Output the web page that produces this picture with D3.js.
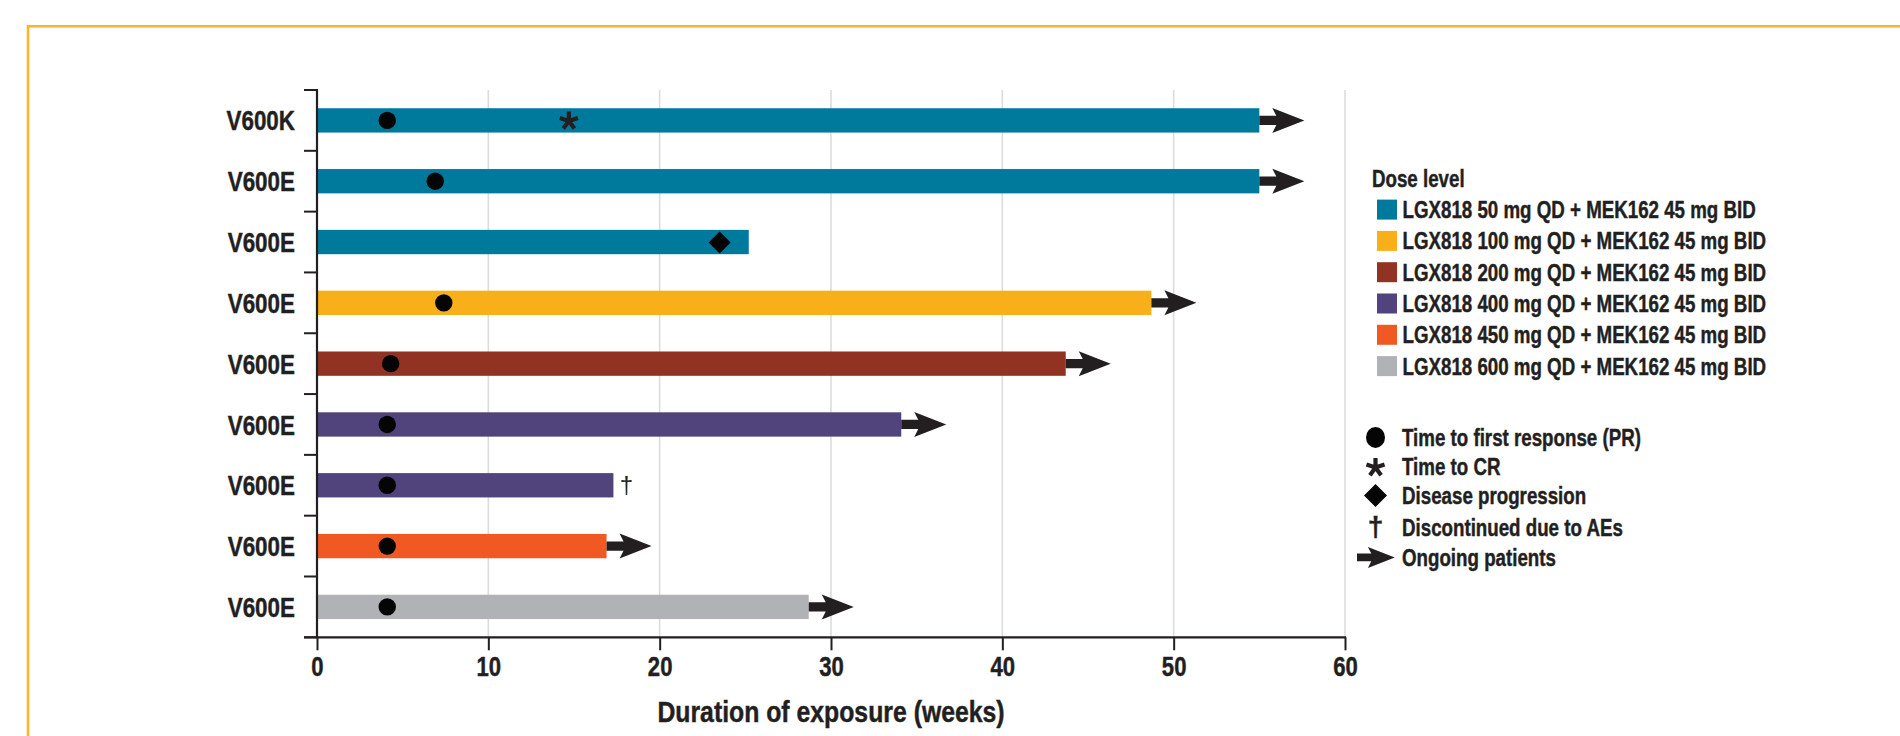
<!DOCTYPE html>
<html>
<head>
<meta charset="utf-8">
<script src="https://cdn.jsdelivr.net/npm/d3@7"></script>
<style>
  html, body { margin: 0; padding: 0; background: #ffffff; }
  svg { display: block; }
  text { font-family: "Liberation Sans", Arial, sans-serif; font-weight: bold; fill: #231f20; stroke: #231f20; stroke-width: 0.45px; }
  text.thin { font-weight: normal; stroke: none; }
</style>
</head>
<body>
<svg id="chart" width="1900" height="736"></svg>
<script>
// Mutation type of each patient, top to bottom
const mutations = ["V600K", "V600E", "V600E", "V600E", "V600E", "V600E", "V600E", "V600E", "V600E"];

// Dose levels and their colours
const doseLevels = [
  "LGX818 50 mg QD + MEK162 45 mg BID",
  "LGX818 100 mg QD + MEK162 45 mg BID",
  "LGX818 200 mg QD + MEK162 45 mg BID",
  "LGX818 400 mg QD + MEK162 45 mg BID",
  "LGX818 450 mg QD + MEK162 45 mg BID",
  "LGX818 600 mg QD + MEK162 45 mg BID"
];
const doseColors = ["#007a9c", "#f8af1a", "#913223", "#51437b", "#f05a22", "#b1b2b5"];

// Per-patient values (weeks)
const patientDose      = [0, 0, 0, 1, 2, 3, 3, 4, 5];
const exposureWeeks    = [55.0, 55.0, 25.2, 48.7, 43.7, 34.1, 17.3, 16.9, 28.7];
const firstResponse    = [4.1, 6.9, null, 7.4, 4.3, 4.1, 4.1, 4.1, 4.1];
const timeToCR         = [14.7, null, null, null, null, null, null, null, null];
const progression      = [null, null, 23.5, null, null, null, null, null, null];
const ongoing          = [true, true, false, true, true, true, false, true, true];
const discontinuedAE   = [false, false, false, false, false, false, true, false, false];

const xTicks = [0, 10, 20, 30, 40, 50, 60];

const markerLegend = [
  { key: "dot",      label: "Time to first response (PR)" },
  { key: "asterisk", label: "Time to CR" },
  { key: "diamond",  label: "Disease progression" },
  { key: "dagger",   label: "Discontinued due to AEs" },
  { key: "arrow",    label: "Ongoing patients" }
];

const ink = "#231f20";
const svg = d3.select("#chart");

// Narrow the glyphs horizontally to get a condensed bold face
function condense(sel, k) {
  sel.each(function () {
    const w = this.getComputedTextLength();
    d3.select(this).attr("textLength", (w * k).toFixed(1)).attr("lengthAdjust", "spacingAndGlyphs");
  });
}

// Outer frame (top and left rules)
svg.append("path")
  .attr("d", "M28,736 L28,26.3 L1900,26.3")
  .attr("fill", "none")
  .attr("stroke", "#fdb42a")
  .attr("stroke-width", 2.6);

const x = d3.scaleLinear().domain([0, 60]).range([317, 1345]);
const y = d3.scaleBand()
  .domain(d3.range(mutations.length))
  .range([90, 637.3])
  .paddingInner(0.6)
  .paddingOuter(0.3);

const yTop = y.range()[0], yBottom = y.range()[1];

// Vertical grid lines
svg.append("g")
  .selectAll("line")
  .data(xTicks.filter(d => d > 0))
  .join("line")
  .attr("x1", d => x(d)).attr("x2", d => x(d))
  .attr("y1", yTop).attr("y2", yBottom)
  .attr("stroke", "#dcdcdc")
  .attr("stroke-width", 1.6);

// Bars
svg.append("g")
  .selectAll("rect")
  .data(exposureWeeks)
  .join("rect")
  .attr("x", x(0))
  .attr("y", (d, i) => y(i))
  .attr("width", d => x(d) - x(0))
  .attr("height", y.bandwidth())
  .attr("fill", (d, i) => doseColors[patientDose[i]]);

// Ongoing arrow shape, origin at its tail
function arrowPath(s) {
  return d3.line()([
    [0, -4.6 * s], [17 * s, -4.6 * s], [13 * s, -12.5 * s], [45 * s, 0],
    [13 * s, 12.5 * s], [17 * s, 4.6 * s], [0, 4.6 * s]
  ]) + "Z";
}
function asteriskPath(r) {
  let p = "";
  for (let k = 0; k < 5; k++) {
    const a = -Math.PI / 2 + k * 2 * Math.PI / 5;
    p += `M0,0L${(r * Math.cos(a)).toFixed(2)},${(r * Math.sin(a)).toFixed(2)}`;
  }
  return p;
}
function diamondPath(r) {
  return `M0,${-r}L${r},0L0,${r}L${-r},0Z`;
}

const cy = i => y(i) + y.bandwidth() / 2;
const idx = exposureWeeks.map((d, i) => i);

svg.append("g")
  .selectAll("path")
  .data(idx.filter(i => ongoing[i]))
  .join("path")
  .attr("transform", i => `translate(${x(exposureWeeks[i])},${cy(i)})`)
  .attr("d", arrowPath(1))
  .attr("fill", ink);

// First response dots
svg.append("g")
  .selectAll("circle")
  .data(idx.filter(i => firstResponse[i] != null))
  .join("circle")
  .attr("cx", i => x(firstResponse[i]))
  .attr("cy", i => cy(i))
  .attr("r", 8.7)
  .attr("fill", "#050505");

// Complete response
svg.append("g")
  .selectAll("path")
  .data(idx.filter(i => timeToCR[i] != null))
  .join("path")
  .attr("transform", i => `translate(${x(timeToCR[i])},${cy(i) + 0.5})`)
  .attr("d", asteriskPath(9.5))
  .attr("stroke", ink)
  .attr("stroke-width", 4.2)
  .attr("fill", "none");

// Progression
svg.append("g")
  .selectAll("path")
  .data(idx.filter(i => progression[i] != null))
  .join("path")
  .attr("transform", i => `translate(${x(progression[i])},${cy(i) + 0.5})`)
  .attr("d", diamondPath(11))
  .attr("fill", "#050505");

// Discontinued due to AEs
svg.append("g")
  .selectAll("text")
  .data(idx.filter(i => discontinuedAE[i]))
  .join("text")
  .attr("class", "thin")
  .attr("x", i => x(exposureWeeks[i]) + 13)
  .attr("y", i => cy(i) + 8)
  .attr("text-anchor", "middle")
  .style("font-size", "24px")
  .text("\u2020");

// Y axis: labels, line and boundary ticks
const yAxis = svg.append("g")
  .attr("transform", `translate(${x(0)},0)`)
  .call(d3.axisLeft(y).tickSize(0).tickPadding(22).tickFormat(i => mutations[i]));
yAxis.select(".domain").remove();
yAxis.selectAll("text")
  .attr("dy", "0.36em")
  .style("font-size", "28px")
  .attr("font-family", null)
  .attr("fill", ink)
  .call(condense, 0.8);

const boundaries = d3.range(mutations.length + 1).map(k => yTop + k * y.step());
svg.append("g")
  .selectAll("line")
  .data(boundaries)
  .join("line")
  .attr("x1", x(0) - 13).attr("x2", x(0))
  .attr("y1", d => d).attr("y2", d => d)
  .attr("stroke", ink).attr("stroke-width", 2);
svg.append("line")
  .attr("x1", x(0)).attr("x2", x(0))
  .attr("y1", yTop - 1).attr("y2", yBottom)
  .attr("stroke", ink).attr("stroke-width", 2.2);

// X axis
const xAxis = svg.append("g")
  .attr("transform", `translate(0,${yBottom})`)
  .call(d3.axisBottom(x).tickValues(xTicks).tickSize(13).tickPadding(7).tickFormat(d3.format("d")));
xAxis.select(".domain").remove();
xAxis.selectAll(".tick line").attr("stroke", ink).attr("stroke-width", 2);
xAxis.selectAll("text")
  .style("font-size", "27px")
  .attr("font-family", null)
  .attr("fill", ink)
  .call(condense, 0.82);
svg.append("line")
  .attr("x1", x(0) - 13).attr("x2", x(60) + 1)
  .attr("y1", yBottom).attr("y2", yBottom)
  .attr("stroke", ink).attr("stroke-width", 2.2);

svg.append("text")
  .attr("x", 831)
  .attr("y", 722)
  .attr("text-anchor", "middle")
  .style("font-size", "29px")
  .text("Duration of exposure (weeks)")
  .call(condense, 0.855);

// Dose legend
const legX = 1377;
svg.append("text")
  .attr("x", legX - 5).attr("y", 186.5)
  .style("font-size", "24px")
  .text("Dose level")
  .call(condense, 0.78);
const doseLeg = svg.append("g")
  .selectAll("g")
  .data(doseLevels)
  .join("g")
  .attr("transform", (d, i) => `translate(${legX},${209.6 + i * 31.3})`);
doseLeg.append("rect")
  .attr("x", 0).attr("y", -10).attr("width", 20).attr("height", 20)
  .attr("fill", (d, i) => doseColors[i]);
doseLeg.append("text")
  .attr("x", 25.5).attr("y", 8.5)
  .style("font-size", "24px")
  .text(d => d)
  .call(condense, 0.78);

// Marker legend
const mk = svg.append("g")
  .selectAll("g")
  .data(markerLegend)
  .join("g")
  .attr("transform", (d, i) => `translate(1375.5,${[437.4, 466.5, 495.6, 527, 557.4][i]})`);
mk.each(function (d) {
  const g = d3.select(this);
  if (d.key === "dot") {
    g.append("ellipse").attr("rx", 9.5).attr("ry", 10.5).attr("fill", "#050505");
  } else if (d.key === "asterisk") {
    g.append("path").attr("d", asteriskPath(9.5)).attr("transform", "translate(0,1)")
      .attr("stroke", ink).attr("stroke-width", 4.2).attr("fill", "none");
  } else if (d.key === "diamond") {
    g.append("path").attr("d", diamondPath(11.5)).attr("fill", "#050505");
  } else if (d.key === "dagger") {
    g.append("text").attr("y", 9).attr("text-anchor", "middle")
      .style("font-size", "28px").text("\u2020");
  } else if (d.key === "arrow") {
    g.append("path").attr("d", arrowPath(0.84)).attr("transform", "translate(-18.5,0)").attr("fill", ink);
  }
  g.append("text").attr("x", 26.5).attr("y", 8.5)
    .style("font-size", "24px")
    .text(d.label)
    .call(condense, 0.78);
});
</script>
</body>
</html>
